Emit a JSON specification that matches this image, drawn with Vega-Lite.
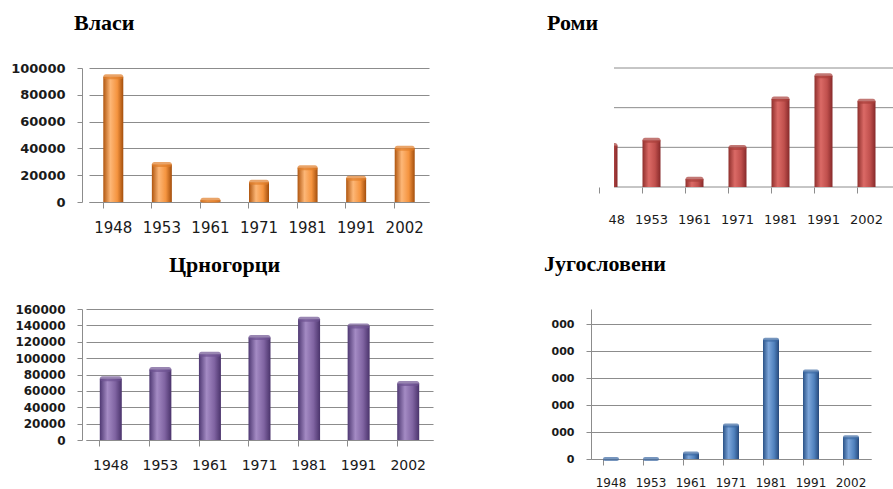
{
  "$schema": "https://vega.github.io/schema/vega-lite/v6.json",
  "background": "white",
  "padding": {"left": 10, "top": 11, "right": 0, "bottom": 0},
  "bounds": "flush",
  "config": {
    "view": {"stroke": null},
    "title": {"font": "Liberation Serif", "fontSize": 22, "fontWeight": "bold", "color": "#000000", "anchor": "start", "frame": "group"},
    "axis": {"domainColor": "#8c8c8c", "tickColor": "#8c8c8c", "gridColor": "#8c8c8c", "gridWidth": 1, "labelFont": "DejaVu Sans", "labelColor": "#1a1a1a", "title": null},
    "axisX": {"bandPosition": 0, "tickSize": 6, "labelPadding": 12, "labelAngle": 0, "grid": false},
    "axisY": {"tickSize": 5, "labelPadding": 12, "labelFontWeight": "bold", "domain": true, "format": "d"}
  },
  "datasets": {
    "vlasi": [
      {"year": "1948", "value": 93440}, {"year": "1953", "value": 28047}, {"year": "1961", "value": 1368},
      {"year": "1971", "value": 14724}, {"year": "1981", "value": 25596}, {"year": "1991", "value": 17804},
      {"year": "2002", "value": 40054}
    ],
    "romi": [
      {"year": "1948", "value": 52181}, {"year": "1953", "value": 58800}, {"year": "1961", "value": 9826},
      {"year": "1971", "value": 49894}, {"year": "1981", "value": 110959}, {"year": "1991", "value": 140237},
      {"year": "2002", "value": 108193}
    ],
    "romiGrid": [
      {"level": 0}, {"level": 50000}, {"level": 100000}, {"level": 150000}
    ],
    "crnogorci": [
      {"year": "1948", "value": 74860}, {"year": "1953", "value": 86061}, {"year": "1961", "value": 104753},
      {"year": "1971", "value": 125260}, {"year": "1981", "value": 147466}, {"year": "1991", "value": 139299},
      {"year": "2002", "value": 69049}
    ],
    "jugosloveni": [
      {"year": "1948", "value": 0}, {"year": "1953", "value": 0}, {"year": "1961", "value": 20079},
      {"year": "1971", "value": 123824}, {"year": "1981", "value": 441941}, {"year": "1991", "value": 323625},
      {"year": "2002", "value": 80721}
    ]
  },
  "vconcat": [
    {
      "bounds": "flush",
      "hconcat": [
        {
          "data": {"name": "vlasi"},
          "width": 360, "height": 134,
          "title": {"text": "Власи", "dx": -8, "offset": 27},
          "encoding": {
            "x": {"field": "year", "type": "ordinal", "scale": {"range": [7, 347], "paddingInner": 0.58, "paddingOuter": 0.29}, "axis": {"labelFontSize": 15, "labelDx": -6}},
            "y": {"field": "value", "type": "quantitative", "scale": {"domain": [0, 100000], "nice": false}, "axis": {"values": [0, 20000, 40000, 60000, 80000, 100000], "labelFontSize": 13}}
          },
          "layer": [
            {"mark": {"type": "bar", "width": 20, "color": {"gradient": "linear", "x1": 0, "x2": 1, "y1": 0, "y2": 0, "stops": [{"offset": 0, "color": "#B0560F"}, {"offset": 0.35, "color": "#FDB777"}, {"offset": 0.7, "color": "#F5943F"}, {"offset": 1, "color": "#A34E0C"}]}}},
            {"mark": {"type": "tick", "orient": "horizontal", "size": 20, "thickness": 5, "cornerRadius": 2.5, "color": "#E07D2A"}}
          ]
        },
        {
          "width": 281, "height": 119,
          "title": {"text": "Роми", "dx": -67, "offset": 33},
          "layer": [
            {
              "data": {"name": "romiGrid"},
              "mark": {"type": "rule", "color": "#8c8c8c", "strokeWidth": 1},
              "encoding": {"y": {"field": "level", "type": "quantitative", "scale": {"domain": [0, 150000], "nice": false}, "axis": {"values": [0, 50000, 100000, 150000], "labels": false, "ticks": false, "domain": false, "grid": false}}}
            },
            {
              "data": {"name": "romi"},
              "mark": {"type": "bar", "width": 18, "clip": true, "color": {"gradient": "linear", "x1": 0, "x2": 1, "y1": 0, "y2": 0, "stops": [{"offset": 0, "color": "#8E2F2C"}, {"offset": 0.35, "color": "#DB6A66"}, {"offset": 0.7, "color": "#C0504D"}, {"offset": 1, "color": "#86292A"}]}},
              "encoding": {
                "x": {"field": "year", "type": "ordinal", "scale": {"range": [-27, 274], "paddingInner": 0.56, "paddingOuter": 0.28}, "axis": {"labelFontSize": 13, "labelPadding": 20, "domain": false, "labelExpr": "datum.label == '1948' ? '48' : datum.label", "labelAlign": {"condition": {"test": "datum.label == '1948'", "value": "left"}, "value": "center"}}},
                "y": {"field": "value", "type": "quantitative", "scale": {"domain": [0, 150000], "nice": false}}
              }
            },
            {
              "data": {"name": "romi"},
              "mark": {"type": "tick", "orient": "horizontal", "size": 18, "thickness": 5, "cornerRadius": 2.5, "clip": true, "color": "#A83E3B"},
              "encoding": {
                "x": {"field": "year", "type": "ordinal"},
                "y": {"field": "value", "type": "quantitative", "scale": {"domain": [0, 150000], "nice": false}}
              }
            }
          ]
        }
      ],
      "spacing": 172
    },
    {
      "bounds": "flush",
      "hconcat": [
        {
          "data": {"name": "crnogorci"},
          "width": 365, "height": 131,
          "title": {"text": "Црногорци", "dx": 87, "offset": 26},
          "encoding": {
            "x": {"field": "year", "type": "ordinal", "scale": {"range": [4, 351], "paddingInner": 0.56, "paddingOuter": 0.28}, "axis": {"labelFontSize": 14, "labelDx": -6}},
            "y": {"field": "value", "type": "quantitative", "scale": {"domain": [0, 160000], "nice": false}, "axis": {"values": [0, 20000, 40000, 60000, 80000, 100000, 120000, 140000, 160000], "labelFontSize": 12}}
          },
          "layer": [
            {"mark": {"type": "bar", "width": 22, "color": {"gradient": "linear", "x1": 0, "x2": 1, "y1": 0, "y2": 0, "stops": [{"offset": 0, "color": "#4E3872"}, {"offset": 0.35, "color": "#A48BC4"}, {"offset": 0.7, "color": "#8064A2"}, {"offset": 1, "color": "#4A336B"}]}}},
            {"mark": {"type": "tick", "orient": "horizontal", "size": 22, "thickness": 5, "cornerRadius": 2.5, "color": "#6E5391"}}
          ]
        },
        {
          "data": {"name": "jugosloveni"},
          "width": 295, "height": 150,
          "title": {"text": "Југословени", "dx": -47, "offset": 33},
          "encoding": {
            "x": {"field": "year", "type": "ordinal", "scale": {"range": [0, 280], "paddingInner": 0.6, "paddingOuter": 0.3}, "axis": {"labelFontSize": 12}},
            "y": {"field": "value", "type": "quantitative", "scale": {"domain": [0, 555556], "nice": false}, "axis": {"values": [0, 100000, 200000, 300000, 400000, 500000], "labelFontSize": 11, "labelExpr": "datum.value == 0 ? '0' : '000'"}}
          },
          "layer": [
            {"mark": {"type": "bar", "width": 16, "color": {"gradient": "linear", "x1": 0, "x2": 1, "y1": 0, "y2": 0, "stops": [{"offset": 0, "color": "#2A5287"}, {"offset": 0.35, "color": "#7DA6DA"}, {"offset": 0.7, "color": "#4F81BD"}, {"offset": 1, "color": "#27497A"}]}}},
            {"mark": {"type": "tick", "orient": "horizontal", "size": 16, "thickness": 4, "cornerRadius": 2, "color": "#3D6AA3"}}
          ]
        }
      ],
      "spacing": 144
    }
  ],
  "spacing": 241
}
